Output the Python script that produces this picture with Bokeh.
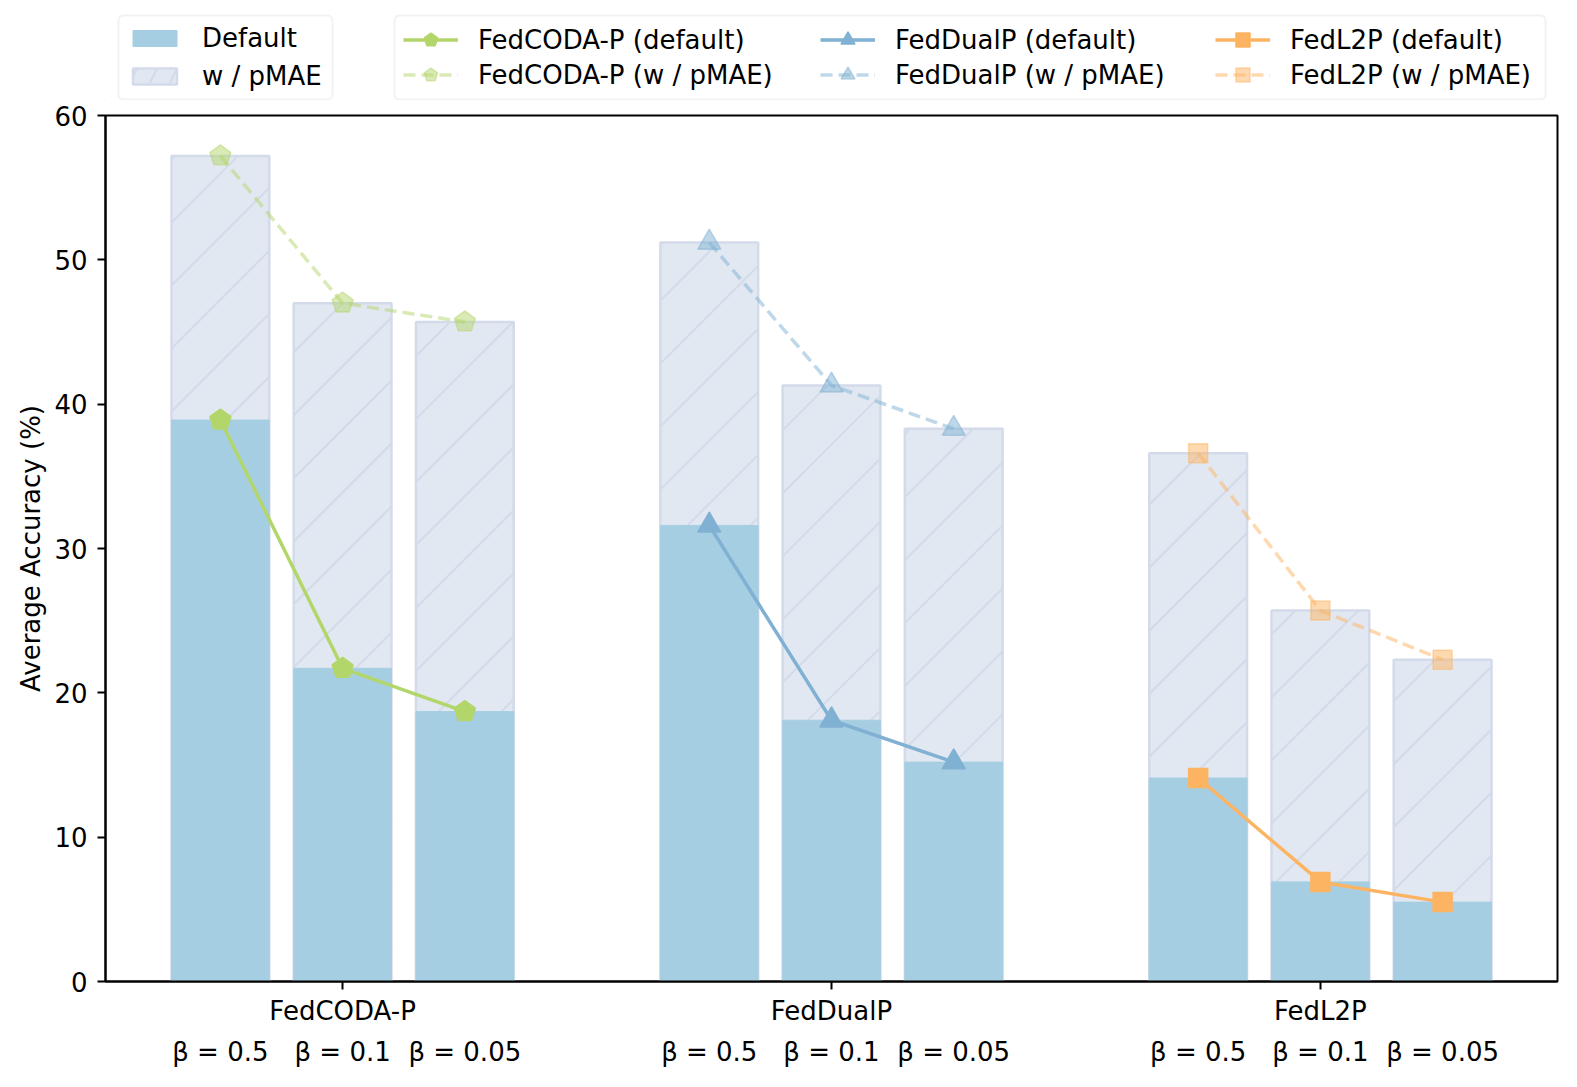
import math
from bokeh.plotting import figure
from bokeh.layouts import column
from bokeh.models import (Range1d, FixedTicker, LinearAxis, Legend, LegendItem,
                          ColumnDataSource, BoxAnnotation)
from bokeh.embed import file_html
from bokeh.resources import INLINE

# ---------------- data ----------------
methods = ["FedCODA-P", "FedDualP", "FedL2P"]
beta_labels = ["β = 0.5", "β = 0.1", "β = 0.05"]

coda_default = [38.9, 21.7, 18.7]
coda_pmae = [57.2, 47.0, 45.7]
dual_default = [31.6, 18.1, 15.2]
dual_pmae = [51.2, 41.3, 38.3]
l2p_default = [14.1, 6.9, 5.5]
l2p_pmae = [36.6, 25.7, 22.3]

y_ticks = [0, 10, 20, 30, 40, 50, 60]

# ---------------- layout / style constants ----------------
group_step = 4
bar_width = 0.8
X_MIN, X_MAX = -0.94, 10.94
Y_MIN, Y_MAX = 0, 60
FRAME_W, FRAME_H = 1452, 866
HATCH_SPACING = 63  # px between hatch lines (vertical)

group_pos = [[g * group_step + j for j in range(len(beta_labels))] for g in range(len(methods))]
group_centers = [sum(gp) / len(gp) for gp in group_pos]
all_pos = [x for gp in group_pos for x in gp]

defaults = [coda_default, dual_default, l2p_default]
pmaes = [coda_pmae, dual_pmae, l2p_pmae]

FONT = "DejaVu Sans"
FS = "26px"
colors = ["#b3d66b", "#80b1d3", "#fdb462"]
BAR_DEF = "#a6cee3"
BAR_PM_FILL = "#e2e8f1"
BAR_PM_LINE = "#d3daea"
LW = 3.5
DASH = "12 6"

# ---------------- main figure ----------------
p = figure(frame_width=FRAME_W, frame_height=FRAME_H,
           x_range=Range1d(X_MIN, X_MAX), y_range=Range1d(Y_MIN, Y_MAX),
           output_backend="svg", toolbar_location=None,
           x_axis_location=None,
           min_border_left=105, min_border_right=18, min_border_top=15, min_border_bottom=100)
p.grid.visible = False
p.outline_line_color = "black"
p.outline_line_width = 2
p.outline_line_alpha = 1.0

yax = p.yaxis[0]
yax.ticker = FixedTicker(ticks=y_ticks)
yax.minor_tick_line_color = None
yax.major_tick_in = 0
yax.major_tick_out = 8
yax.major_tick_line_width = 2
yax.axis_line_width = 2
yax.axis_line_color = "black"
yax.major_label_text_font = FONT
yax.major_label_text_font_size = FS
yax.major_label_text_color = "black"
yax.major_label_standoff = 10
yax.axis_label = "Average Accuracy (%)"
yax.axis_label_text_font = FONT
yax.axis_label_text_font_size = FS
yax.axis_label_text_font_style = "normal"
yax.axis_label_text_color = "black"
yax.axis_label_standoff = 5

xax1 = LinearAxis(ticker=FixedTicker(ticks=group_centers),
                  major_label_overrides={c: m for c, m in zip(group_centers, methods)})
xax1.minor_tick_line_color = None
xax1.major_tick_in = 0
xax1.major_tick_out = 8
xax1.major_tick_line_width = 2
xax1.axis_line_width = 2
xax1.axis_line_color = "black"
xax1.major_label_text_font = FONT
xax1.major_label_text_font_size = FS
xax1.major_label_text_color = "black"
xax1.major_label_standoff = 6
p.add_layout(xax1, "below")

beta_over = {}
for gp in group_pos:
    for x, b in zip(gp, beta_labels):
        beta_over[x] = b
xax2 = LinearAxis(ticker=FixedTicker(ticks=all_pos), major_label_overrides=beta_over)
xax2.axis_line_color = None
xax2.major_tick_line_color = None
xax2.minor_tick_line_color = None
xax2.major_tick_in = 0
xax2.major_tick_out = 0
xax2.major_label_text_font = FONT
xax2.major_label_text_font_size = FS
xax2.major_label_text_color = "black"
xax2.major_label_standoff = 8
p.add_layout(xax2, "below")

bar_src = ColumnDataSource(data=dict(
    x=all_pos,
    default=[v for d in defaults for v in d],
    pmae=[v for d in pmaes for v in d],
))
p.vbar(x="x", top="pmae", bottom=0, width=bar_width, source=bar_src,
       fill_color=BAR_PM_FILL, line_color=BAR_PM_LINE, line_width=2.5)

# hatch "/" lines inside the pMAE bars (45 degrees on screen)
kx = FRAME_W / (X_MAX - X_MIN)
ky = FRAME_H / (Y_MAX - Y_MIN)
hx0, hy0, hx1, hy1 = [], [], [], []
for x, top in zip(bar_src.data["x"], bar_src.data["pmae"]):
    Xl = kx * (x - bar_width / 2 - X_MIN)
    Xr = kx * (x + bar_width / 2 - X_MIN)
    Yt = ky * (top - Y_MIN)
    k0 = math.ceil(-Xr / HATCH_SPACING)
    k1 = math.floor((Yt - Xl) / HATCH_SPACING)
    for k in range(k0, k1 + 1):
        c = k * HATCH_SPACING
        Xs = max(Xl, -c)
        Xe = min(Xr, Yt - c)
        if Xe - Xs > 1:
            hx0.append(Xs / kx + X_MIN)
            hy0.append((Xs + c) / ky + Y_MIN)
            hx1.append(Xe / kx + X_MIN)
            hy1.append((Xe + c) / ky + Y_MIN)
p.segment(hx0, hy0, hx1, hy1, line_color=BAR_PM_LINE, line_width=2)

p.vbar(x="x", top="default", bottom=0, width=bar_width, source=bar_src,
       fill_color=BAR_DEF, line_color=BAR_DEF, line_width=1)


def markers(fig, g, xs, ys, col, alpha):
    kw = dict(fill_color=col, line_color=col, line_width=1.5, fill_alpha=alpha, line_alpha=alpha)
    if g == 0:
        return fig.ngon(x=xs, y=ys, radius=11, radius_units="screen", n=5, **kw)
    if g == 1:
        return fig.scatter(xs, ys, marker="triangle", size=23, **kw)
    return fig.scatter(xs, ys, marker="square", size=19, **kw)


for g, col in enumerate(colors):
    xs = group_pos[g]
    p.line(xs, pmaes[g], line_color=col, line_width=LW, line_alpha=0.5, line_dash=DASH)
    p.line(xs, defaults[g], line_color=col, line_width=LW)
    markers(p, g, xs, pmaes[g], col, 0.5)
    markers(p, g, xs, defaults[g], col, 1.0)

# ---------------- legend strip (frame aligned with the main frame) ----------------
lf = figure(width=1575, height=100, x_range=Range1d(0, 1), y_range=Range1d(0, 1),
            output_backend="svg", toolbar_location=None,
            x_axis_location=None, y_axis_location=None,
            min_border_left=0, min_border_right=0, min_border_top=0, min_border_bottom=0)
lf.grid.visible = False
lf.outline_line_color = None

BOX = dict(left_units="screen", right_units="screen", top_units="screen", bottom_units="screen",
           fill_color="white", fill_alpha=1.0, line_color="#d4d4d4", line_width=2, border_radius=5)
lf.add_layout(BoxAnnotation(left=13, right=227, bottom=1, top=85, **BOX))
lf.add_layout(BoxAnnotation(left=289, right=1440, bottom=1, top=85, **BOX))

# legend-only glyphs: their data lie fully outside the strip's ranges (left and below)
OUT_X = [-6, -5]
OUT_Y = [-6, -5]
lg_def = lf.vbar(x=OUT_X, top=OUT_Y, bottom=-10, width=0.8,
                 fill_color=BAR_DEF, line_color=BAR_DEF, line_width=1)
lg_pm = lf.vbar(x=OUT_X, top=OUT_Y, bottom=-10, width=0.8,
                fill_color=BAR_PM_FILL, line_color=BAR_PM_LINE,
                line_width=2.5, hatch_pattern="/", hatch_color=BAR_PM_LINE, hatch_weight=2,
                hatch_scale=40)

legend_cols = []
for g, (m, col) in enumerate(zip(methods, colors)):
    l_def = lf.line(OUT_X, OUT_Y, line_color=col, line_width=LW)
    m_def = markers(lf, g, OUT_X, OUT_Y, col, 1.0)
    l_pm = lf.line(OUT_X, OUT_Y, line_color=col, line_width=LW, line_alpha=0.5, line_dash=DASH)
    m_pm = markers(lf, g, OUT_X, OUT_Y, col, 0.5)
    legend_cols.append([
        LegendItem(label=f"{m} (default)", renderers=[l_def, m_def]),
        LegendItem(label=f"{m} (w / pMAE)", renderers=[l_pm, m_pm]),
    ])


def style(leg):
    leg.label_text_font = FONT
    leg.label_text_font_size = FS
    leg.label_text_color = "black"
    leg.margin = 0
    leg.padding = 0
    leg.glyph_width = 55
    leg.label_standoff = 20
    leg.label_height = 30
    leg.border_line_color = None
    leg.background_fill_alpha = 0.0


leg1 = Legend(items=[LegendItem(label="Default", renderers=[lg_def]),
                     LegendItem(label="w / pMAE", renderers=[lg_pm])],
              location=(22, 9))
style(leg1)
leg1.glyph_height = 20
leg1.spacing = 8
lf.add_layout(leg1)

col_x = [298, 715, 1110]
for i, items in enumerate(legend_cols):
    leg = Legend(items=items, location=(col_x[i], 8))
    style(leg)
    leg.glyph_height = 35
    leg.spacing = 0
    lf.add_layout(leg)

layout = column(lf, p, spacing=0)
open("out.html", "w").write(file_html(layout, INLINE))
